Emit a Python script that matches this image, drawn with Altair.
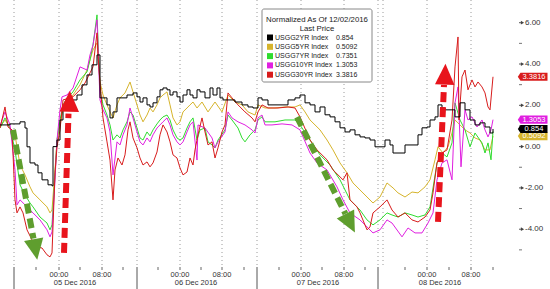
import altair as alt
import pandas as pd

# ---------------- data (x = 12-minute bar index, y = normalized yield change) ----------------
bars_2yr = [0,10,20,25,27,30,35,38,42,48,52,53,57,60,63,67,72,77,82,87,92,97,
            100,107,110,113,117,127,133,137,140,143,147,150,153,157,160,163,167,170,173,177,180,183,187,190,
            193,197,200,205,210,213,217,220,223,235,242,248,253,258,262,268,282,288,295,
            300,305,310,315,320,325,330,335,340,345,350,355,360,365,370,375,380,385,390,393,400,405,418,
            422,427,430,435,438,442,445,455,460,465,470,475,480,485,490,493]
vals_2yr = [1.05,1.10,1.20,0.90,-0.01,-0.79,-0.89,-1.27,-1.61,-1.85,-1.90,0.00,0.32,1.29,1.78,1.87,2.26,2.50,2.99,3.47,3.96,4.44,
            2.36,2.02,1.39,1.68,2.36,2.50,2.60,2.41,2.16,2.36,2.02,1.92,2.12,2.41,2.75,2.84,2.75,2.50,2.65,2.41,2.16,2.50,2.75,2.50,
            2.36,2.75,2.65,2.36,2.84,2.50,2.84,2.36,2.26,2.16,2.02,1.92,1.87,2.36,2.26,2.02,2.02,2.26,2.36,
            2.50,2.12,2.02,1.68,1.92,1.54,1.44,1.20,0.91,0.71,0.81,0.57,0.47,0.42,0.32,-0.01,-0.01,0.32,0.08,-0.31,-0.31,0.08,0.57,
            0.91,0.95,1.29,1.44,2.02,1.87,1.78,1.44,2.12,1.78,1.29,1.05,1.15,0.95,0.66,0.854]

bars_5yr = [0,5,10,15,20,25,30,33,40,47,50,52,55,57,60,63,67,73,80,87,90,93,97,
            100,103,107,110,113,117,120,125,130,133,137,140,143,147,150,153,157,160,163,167,170,173,177,180,183,187,190,
            193,197,202,208,215,222,228,235,242,248,255,258,265,275,285,295,
            300,305,310,320,327,333,340,347,353,360,367,373,380,387,393,398,405,412,418,425,430,435,438,443,448,452,455,
            460,465,470,475,480,485,490,493]
vals_5yr = [0.95,1.29,0.91,0.57,-0.89,-1.37,-1.95,-2.24,-2.58,-2.92,-3.21,-3.07,-1.13,0.32,1.05,1.78,2.02,2.50,2.99,3.71,4.20,4.68,5.02,
            3.13,2.50,2.02,1.68,1.39,2.02,2.36,2.60,3.13,2.65,2.02,1.53,1.20,1.53,1.87,1.68,2.02,2.36,2.50,2.65,2.02,1.39,1.05,1.20,1.68,1.87,2.02,
            2.16,1.87,2.16,1.68,2.16,1.68,2.50,2.16,2.02,1.68,1.53,2.02,1.87,1.87,1.92,1.92,
            2.02,1.68,1.29,0.81,0.32,-0.16,-0.79,-1.27,-1.76,-2.10,-2.44,-2.73,-2.44,-1.76,-2.00,-2.24,-2.44,-2.20,-2.24,-1.95,-1.61,-0.64,-0.01,-0.31,-0.01,0.66,1.29,
            1.05,0.81,0.66,0.42,0.32,-0.16,-0.16,0.5092]

bars_7yr = [0,5,10,15,20,25,30,33,40,47,50,52,55,57,60,63,67,73,80,87,90,93,97,
            100,103,107,110,113,117,120,123,127,130,133,137,140,143,147,150,153,157,160,163,167,170,173,177,180,183,187,190,
            193,197,200,205,208,212,215,218,225,228,232,238,242,245,250,255,258,262,265,275,285,295,
            300,310,320,330,340,350,360,367,373,380,387,392,398,405,412,418,425,430,437,442,447,452,455,460,465,470,475,
            482,485,488,491,493]
vals_7yr = [0.90,1.39,0.90,-0.16,-1.85,-2.34,-2.73,-2.92,-3.41,-3.70,-4.03,-3.79,-1.37,0.32,1.29,2.02,2.36,2.65,3.23,3.62,4.20,4.92,6.38,
            2.75,2.02,1.53,1.05,0.32,0.57,0.42,0.81,1.20,1.68,1.53,0.90,0.42,0.32,0.71,0.52,0.81,1.10,1.29,1.44,1.53,1.29,0.81,0.42,0.32,0.42,0.90,1.20,
            1.39,0.32,0.81,0.90,0.23,0.08,-0.06,0.32,0.81,1.53,1.29,0.90,0.42,0.23,0.57,0.81,1.29,1.44,1.20,1.20,1.29,1.29,
            1.05,0.32,-0.40,-0.89,-1.61,-2.58,-3.07,-3.55,-3.79,-3.55,-3.21,-3.31,-3.41,-3.21,-3.31,-3.41,-3.31,-2.92,-0.79,-0.31,-0.50,0.18,2.12,1.29,0.81,-0.01,0.66,
            0.18,-0.31,0.18,-0.64,0.7351]

bars_10yr = [0,5,10,15,17,20,25,30,33,40,47,50,52,55,57,60,62,67,73,80,87,90,93,97,
             100,103,107,110,113,117,120,123,127,130,133,137,140,143,147,150,153,157,160,163,167,170,173,177,180,183,187,190,
             193,197,198,205,212,215,218,225,228,232,238,245,252,255,258,262,265,272,282,292,
             300,310,317,327,337,343,350,360,367,373,380,387,392,402,408,415,422,428,433,437,442,447,452,455,458,461,465,
             468,472,477,482,485,488,491,493]
vals_10yr = [1.00,1.68,1.05,-1.13,-2.82,-2.58,-2.82,-3.07,-3.21,-3.55,-4.03,-4.37,-4.13,-1.61,0.32,1.78,2.41,2.50,2.84,3.86,3.71,4.44,4.92,6.14,
             2.26,1.78,1.39,0.71,-1.37,0.23,0.08,0.57,1.05,1.87,1.39,0.71,0.23,0.08,0.42,0.23,0.57,0.90,1.05,1.20,1.39,1.05,0.57,0.23,0.08,0.23,0.71,1.05,
             1.20,-0.65,1.05,0.90,0.42,-0.06,0.23,0.71,1.68,1.39,1.20,1.05,0.81,0.66,1.39,1.53,1.05,1.05,1.10,1.05,
             0.81,-0.31,-0.79,-1.13,-1.95,-2.58,-3.21,-3.55,-3.89,-4.18,-4.03,-3.55,-3.70,-4.37,-3.94,-4.18,-4.18,-3.70,-3.21,-1.61,-0.79,-0.64,-1.61,2.12,2.89,-0.98,1.78,
             1.29,1.44,0.95,1.29,0.81,0.47,0.81,1.3053]

bars_30yr = [0,5,8,12,15,17,20,23,27,32,37,42,47,50,52,55,57,60,63,73,80,85,90,93,97,98,
             100,103,107,110,113,115,118,122,125,128,130,133,137,140,143,147,150,153,157,160,163,167,170,173,177,180,183,187,190,
             193,195,198,202,205,208,212,215,218,222,225,228,232,238,245,252,255,258,262,268,278,288,295,
             300,310,317,327,333,343,347,350,357,360,367,370,373,380,387,392,398,405,412,418,425,430,433,437,442,447,452,455,
             458,459,462,465,468,472,475,478,482,485,488,490,493]
vals_30yr = [0.90,1.92,0.95,0.81,-2.58,-3.21,-2.92,-3.21,-4.03,-4.52,-4.86,-4.91,-5.24,-5.34,-5.15,-1.27,-0.01,0.81,2.26,2.41,2.75,3.08,3.57,3.86,5.51,4.44,
             3.08,1.39,0.23,-0.65,-2.58,-1.13,-0.55,-0.89,-0.40,0.81,1.20,0.42,-0.06,-0.55,-0.89,-0.74,-0.98,-0.79,-0.26,0.57,1.05,0.71,0.23,-0.40,-0.55,-1.03,-1.37,-1.23,-0.55,
             -0.89,-0.16,0.57,1.39,0.71,0.08,0.23,-0.55,-0.06,0.71,1.05,2.60,2.36,2.02,1.68,1.39,1.20,1.68,2.02,1.87,1.87,1.92,1.87,
             1.44,0.32,-0.16,-0.64,-1.13,-1.61,-1.27,-2.58,-2.92,-3.21,-4.03,-3.89,-3.21,-2.92,-2.58,-3.07,-3.41,-3.21,-3.55,-3.65,-3.41,-3.07,-2.24,-0.79,-0.31,-0.16,1.29,3.86,
             5.31,1.29,3.38,3.71,2.75,3.23,2.89,3.13,2.89,2.60,1.92,1.78,3.3816]

names = ["USGG2YR Index", "USGG5YR Index", "USGG7YR Index", "USGG10YR Index", "USGG30YR Index"]
last_price_text = ["0.854", "0.5092", "0.7351", "1.3053", "3.3816"]
last_price = [0.854, 0.5092, 0.7351, 1.3053, 3.3816]
colors = ["#000000", "#d6b42c", "#2fdc2f", "#e01fe0", "#d81c1c"]

legend_title = ["Normalized As Of 12/02/2016", "Last Price"]

y_ticks = [-4, -2, 0, 2, 4, 6]
y_tick_labels = ["-4.00", "-2.00", "0.00", "2.00", "4.00", "6.00"]
y_minor = [-5, -3, -1, 1, 3, 5]
x_tick_bars = [36, 59, 80, 102, 123, 158, 180, 201, 222, 244, 279, 301, 322, 344, 365, 405, 427, 449, 471, 493]
time_label_bars = [59, 102, 180, 222, 301, 344, 427, 471]
time_labels = ["00:00", "08:00", "00:00", "08:00", "00:00", "08:00", "00:00", "08:00"]
separator_bars = [14, 137, 257, 378]
extra_grid_bars = [383]
day_label_bars = [75, 196, 318, 440]
day_labels = ["05 Dec 2016", "06 Dec 2016", "07 Dec 2016", "08 Dec 2016"]

# annotation arrows (bar index / value units)
arrow_x0 = [64, 438, 13, 297]
arrow_v0 = [-5.15, -3.65, 0.81, 1.43]
arrow_x1 = [68.5, 444, 33.5, 345.5]
arrow_v1 = [1.60, 2.99, -4.45, -3.26]
head_x = [69.5, 445, 35, 349]
head_v = [2.07, 3.38, -4.86, -3.60]
head_angle = [1.6, 2.0, 170, 153]
arrow_color = ["#e8141c", "#e8141c", "#5f9e2e", "#5f9e2e"]

# ---------------- chart ----------------
FONT = "Liberation Sans"
x_scale = alt.Scale(domain=[0, 519], nice=False, zero=False)
y_scale = alt.Scale(domain=[-5.83, 7.10], nice=False, zero=False)

x_axis = alt.Axis(orient="bottom", values=x_tick_bars, grid=False, labels=False, ticks=False,
                  domainColor="#888", title=None)
y_axis = alt.Axis(orient="right", values=y_ticks, grid=True, gridDash=[1, 3], gridColor="#9a9a9a",
                  labels=False, ticks=False, domainColor="#888", title=None)

layers = []

# vertical dotted grid
vgrid = sorted(separator_bars + time_label_bars + extra_grid_bars)
layers.append(alt.Chart(pd.DataFrame({"bar": vgrid})).mark_rule(color="#9a9a9a", strokeDash=[1, 3], strokeWidth=1)
              .encode(x=alt.X("bar:Q", scale=x_scale, axis=None)))

series = [(bars_5yr, vals_5yr, 1), (bars_7yr, vals_7yr, 2), (bars_10yr, vals_10yr, 3),
          (bars_30yr, vals_30yr, 4), (bars_2yr, vals_2yr, 0)]
first = True
for xs, vs, idx in series:
    df = pd.DataFrame({"bar": xs, "value": vs})
    interp = "step-after" if idx == 0 else "linear"
    layers.append(alt.Chart(df).mark_line(color=colors[idx], strokeWidth=1, interpolate=interp, clip=True)
                  .encode(x=alt.X("bar:Q", scale=x_scale, axis=x_axis if first else None),
                          y=alt.Y("value:Q", scale=y_scale, axis=y_axis if first else None)))
    first = False

# arrows
arrows = pd.DataFrame({"x0": arrow_x0, "v0": arrow_v0, "x1": arrow_x1, "v1": arrow_v1,
                       "hx": head_x, "hv": head_v, "ang": head_angle, "col": arrow_color})
layers.append(alt.Chart(arrows).mark_rule(strokeWidth=6, strokeDash=[10, 5], strokeCap="butt")
              .encode(x=alt.X("x0:Q", scale=x_scale, axis=None), y=alt.Y("v0:Q", scale=y_scale, axis=None),
                      x2="x1:Q", y2="v1:Q", color=alt.Color("col:N", scale=None)))
layers.append(alt.Chart(arrows).mark_point(shape="M0,-1L0.75,0.6L-0.75,0.6Z", size=676, filled=True,
                                           opacity=1, strokeWidth=0)
              .encode(x=alt.X("hx:Q", scale=x_scale, axis=None), y=alt.Y("hv:Q", scale=y_scale, axis=None),
                      angle=alt.Angle("ang:Q", scale=None), color=alt.Color("col:N", scale=None)))

# right axis: minor ticks, major tick markers and labels
layers.append(alt.Chart(pd.DataFrame({"v": y_minor})).mark_rule(color="#777", strokeWidth=1)
              .encode(x=alt.value(519), x2=alt.value(522), y=alt.Y("v:Q", scale=y_scale, axis=None)))
ytk = pd.DataFrame({"v": y_ticks, "t": y_tick_labels})
layers.append(alt.Chart(ytk).mark_rule(color="#555", strokeWidth=1)
              .encode(x=alt.value(519), x2=alt.value(521), y=alt.Y("v:Q", scale=y_scale, axis=None)))
layers.append(alt.Chart(ytk).mark_point(shape="triangle-right", size=14, filled=True, opacity=1, color="#444")
              .encode(x=alt.value(522.5), y=alt.Y("v:Q", scale=y_scale, axis=None)))
layers.append(alt.Chart(ytk).mark_text(fontSize=8, font=FONT, color="#333", align="left", baseline="middle")
              .encode(x=alt.value(525), y=alt.Y("v:Q", scale=y_scale, axis=None), text="t:N"))

# x axis: small ticks, long day separators, time and day labels
layers.append(alt.Chart(pd.DataFrame({"bar": x_tick_bars})).mark_rule(color="#666", strokeWidth=1)
              .encode(x=alt.X("bar:Q", scale=x_scale, axis=None), y=alt.value(267), y2=alt.value(270)))
layers.append(alt.Chart(pd.DataFrame({"bar": separator_bars})).mark_rule(color="#555", strokeWidth=1)
              .encode(x=alt.X("bar:Q", scale=x_scale, axis=None), y=alt.value(267), y2=alt.value(289)))
layers.append(alt.Chart(pd.DataFrame({"bar": time_label_bars, "t": time_labels}))
              .mark_text(fontSize=7.5, font=FONT, color="#333", baseline="middle", align="center")
              .encode(x=alt.X("bar:Q", scale=x_scale, axis=None), y=alt.value(274.5), text="t:N"))
layers.append(alt.Chart(pd.DataFrame({"bar": day_label_bars, "t": day_labels}))
              .mark_text(fontSize=7.5, font=FONT, color="#333", baseline="middle", align="center")
              .encode(x=alt.X("bar:Q", scale=x_scale, axis=None), y=alt.value(283), text="t:N"))

# last-price tags on the right axis (the 7YR tag sits fully hidden under the others in the original)
tag_order = [1, 0, 3, 4]
tags = pd.DataFrame({"v": [last_price[i] for i in tag_order],
                     "t": [last_price_text[i] for i in tag_order],
                     "col": [colors[i] for i in tag_order]})
layers.append(alt.Chart(tags).mark_point(shape="M-1.2,0L-1,-0.3L1,-0.3L1,0.3L-1,0.3Z", size=729,
                                         filled=True, opacity=1, strokeWidth=0)
              .encode(x=alt.value(534), y=alt.Y("v:Q", scale=y_scale, axis=None),
                      color=alt.Color("col:N", scale=None)))
layers.append(alt.Chart(tags).mark_text(fontSize=7.5, font=FONT, color="white", baseline="middle",
                                        align="center")
              .encode(x=alt.value(534), y=alt.Y("v:Q", scale=y_scale, axis=None), text="t:N"))

# legend box
one = pd.DataFrame({"a": [0]})
layers.append(alt.Chart(one).mark_rect(fill="white", stroke="#888", strokeWidth=1, cornerRadius=2)
              .encode(x=alt.value(262), x2=alt.value(372), y=alt.value(9), y2=alt.value(82)))
for k, line in enumerate(legend_title):
    layers.append(alt.Chart(pd.DataFrame({"t": [line]}))
                  .mark_text(fontSize=7.8, font=FONT, color="#222", align="center", baseline="middle")
                  .encode(x=alt.value(317), y=alt.value(20 + 9 * k), text="t:N"))
for i in range(5):
    ypos = 37.5 + 9.3 * i
    layers.append(alt.Chart(one).mark_square(size=36, color=colors[i], opacity=1, filled=True)
                  .encode(x=alt.value(270), y=alt.value(ypos)))
    layers.append(alt.Chart(pd.DataFrame({"t": [names[i]]}))
                  .mark_text(fontSize=7, font=FONT, color="#222", align="left", baseline="middle")
                  .encode(x=alt.value(275), y=alt.value(ypos), text="t:N"))
    layers.append(alt.Chart(pd.DataFrame({"t": [last_price_text[i]]}))
                  .mark_text(fontSize=7, font=FONT, color="#222", align="left", baseline="middle")
                  .encode(x=alt.value(336), y=alt.value(ypos), text="t:N"))

chart = (alt.layer(*layers)
         .properties(width=519, height=267, autosize=alt.AutoSizeParams(type="none"),
                     padding={"left": 0, "top": 0, "right": 31, "bottom": 22}, background="white")
         .configure_view(stroke=None)
         .configure_text(font=FONT))

chart.save("out.html", embed_options={"renderer": "svg", "actions": False})
